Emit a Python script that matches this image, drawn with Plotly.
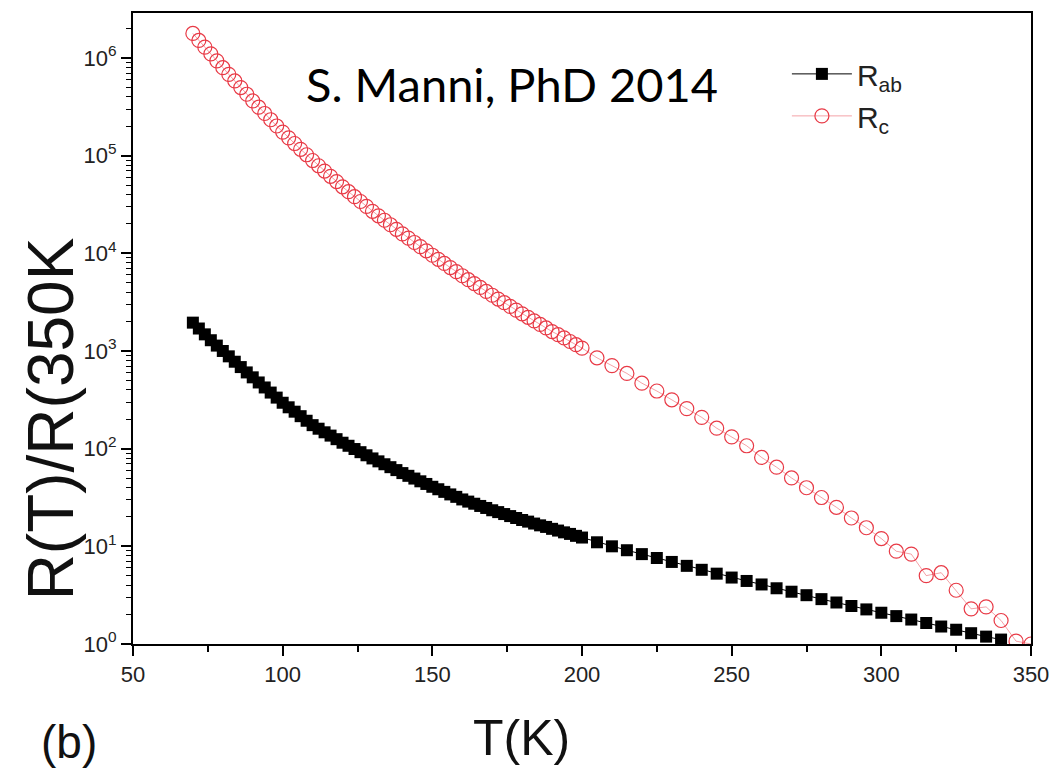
import plotly.graph_objects as go

# ---------------- data ----------------
T_ab = [70, 72, 74, 76, 78, 80, 82, 84, 86, 88, 90, 92, 94, 96, 98, 100,
        102, 104, 106, 108, 110, 112, 114, 116, 118, 120, 122, 124, 126, 128, 130,
        132, 134, 136, 138, 140, 142, 144, 146, 148, 150, 152, 154, 156, 158, 160,
        162, 164, 166, 168, 170, 172, 174, 176, 178, 180, 182, 184, 186, 188, 190,
        192, 194, 196, 198, 200,
        205, 210, 215, 220, 225, 230, 235, 240, 245, 250, 255, 260, 265, 270, 275,
        280, 285, 290, 295, 300, 305, 310, 315, 320, 325, 330, 335, 340]
R_ab = [1950, 1698, 1479, 1288, 1135, 1000, 881, 776, 684, 603, 537, 476, 423, 375, 333, 295,
        265, 239, 215, 193, 174, 160, 147, 136, 125, 115, 107, 99.1, 92.0, 85.5, 79.4,
        74.1, 69.2, 64.6, 60.3, 56.2, 52.7, 49.4, 46.3, 43.5, 40.7, 38.4, 36.1, 34.0, 32.1, 30.2,
        28.7, 27.3, 25.9, 24.7, 23.4, 22.4, 21.4, 20.4, 19.5, 18.6, 17.9, 17.1, 16.4, 15.8, 15.1,
        14.5, 13.9, 13.4, 12.8, 12.3,
        11.0, 10.0, 9.12, 8.32, 7.59, 6.92, 6.31, 5.75, 5.25, 4.79, 4.42, 4.07, 3.72, 3.43, 3.16,
        2.88, 2.66, 2.45, 2.26, 2.09, 1.93, 1.78, 1.64, 1.51, 1.40, 1.29, 1.19, 1.11]

T_c = [70, 72, 74, 76, 78, 80, 82, 84, 86, 88, 90, 92, 94, 96, 98, 100,
       102, 104, 106, 108, 110, 112, 114, 116, 118, 120, 122, 124, 126, 128, 130,
       132, 134, 136, 138, 140, 142, 144, 146, 148, 150, 152, 154, 156, 158, 160,
       162, 164, 166, 168, 170, 172, 174, 176, 178, 180, 182, 184, 186, 188, 190,
       192, 194, 196, 198, 200,
       205, 210, 215, 220, 225, 230, 235, 240, 245, 250, 255, 260, 265, 270, 275,
       280, 285, 290, 295, 300, 305, 310, 315, 320, 325, 330, 335, 340, 345, 350]
R_c = [1780000, 1510000, 1290000, 1100000, 933000, 794000, 679000, 581000, 497000, 425000,
       363000, 313000, 270000, 233000, 201000, 174000, 152000, 133000, 116000, 102000,
       89100, 78700, 69500, 61400, 54200, 47900, 42700, 38000, 33900, 30200,
       26900, 24200, 21800, 19600, 17600, 15800, 14300, 12900, 11700, 10600,
       9550, 8670, 7870, 7140, 6490, 5890, 5370, 4900, 4470, 4070,
       3720, 3400, 3120, 2860, 2620, 2400, 2210, 2030, 1870, 1720,
       1580, 1470, 1360, 1250, 1160, 1070,
       851, 708, 589, 468, 389, 316, 257, 209, 162, 132, 107, 81.3, 64.6, 50.1, 39.8,
       31.6, 25.1, 19.5, 15.5, 12.0, 8.91, 8.32, 5.01, 5.37, 3.55, 2.29, 2.40, 1.74, 1.07, 1.0]

x_ticks = [50, 100, 150, 200, 250, 300, 350]
y_ticks = [1, 10, 100, 1000, 10000, 100000, 1000000]
y_ticktext = ["10<sup>0</sup>", "10<sup>1</sup>", "10<sup>2</sup>", "10<sup>3</sup>",
              "10<sup>4</sup>", "10<sup>5</sup>", "10<sup>6</sup>"]

# ---------------- figure ----------------
W, H = 1060, 768
L, R, TOP, BOT = 133, 22, 11, 124
pw, ph = W - L - R, H - TOP - BOT

def px(xp):
    return (xp - L) / pw

def py(yp):
    return (H - BOT - yp) / ph

RED = "rgb(232,58,70)"
tick_font = dict(family="Liberation Sans, Arial", size=22, color="#222")

fig = go.Figure()
fig.add_trace(go.Scatter(
    x=T_ab, y=R_ab, mode="lines+markers", name="R<sub>ab</sub>",
    line=dict(color="black", width=1),
    marker=dict(symbol="square", size=12, color="black", line=dict(width=0)),
))
fig.add_trace(go.Scatter(
    x=T_c, y=R_c, mode="lines+markers", name="R<sub>c</sub>",
    line=dict(color="rgba(232,58,70,0.6)", width=0.8),
    marker=dict(symbol="circle-open", size=14, color=RED, line=dict(width=1.2)),
))

fig.update_layout(
    width=W, height=H,
    margin=dict(l=L, r=R, t=TOP, b=BOT),
    paper_bgcolor="white", plot_bgcolor="white",
    showlegend=True,
    legend=dict(x=px(792), y=py(46), xanchor="left", yanchor="top",
                font=dict(family="Liberation Sans, Arial", size=30, color="#222"),
                bgcolor="rgba(0,0,0,0)", itemwidth=60),
    xaxis=dict(range=[50, 350], tickvals=x_ticks, ticks="outside", ticklen=10, tickwidth=2,
               tickcolor="black", showline=True, linewidth=2, linecolor="black", mirror=True,
               showgrid=False, zeroline=False, tickfont=tick_font,
               minor=dict(dtick=25, tick0=50, ticks="outside", ticklen=6, tickwidth=1.5,
                          tickcolor="black", showgrid=False)),
    yaxis=dict(type="log", range=[0, 6.46], tickvals=y_ticks, ticktext=y_ticktext,
               ticks="outside", ticklen=10, tickwidth=2, tickcolor="black",
               showline=True, linewidth=2, linecolor="black", mirror=True,
               showgrid=False, zeroline=False, tickfont=tick_font,
               minor=dict(dtick="D1", ticks="outside", ticklen=5, tickwidth=1,
                          tickcolor="black", showgrid=False)),
)

fig.add_annotation(text="S. Manni, PhD 2014", x=px(515), y=py(82), xref="paper", yref="paper",
                   showarrow=False, xanchor="center", yanchor="middle",
                   font=dict(family="Lato, Open Sans, sans-serif", size=47, color="black"))
fig.add_annotation(text="R(T)/R(350K", x=px(50), y=py(418), xref="paper", yref="paper",
                   showarrow=False, textangle=-90, xanchor="center", yanchor="middle",
                   font=dict(family="Liberation Sans, Arial", size=64, color="#111"))
fig.add_annotation(text="T(K)", x=px(525), y=py(738), xref="paper", yref="paper",
                   showarrow=False, xanchor="center", yanchor="middle",
                   font=dict(family="Liberation Sans, Arial", size=50, color="#111"))
fig.add_annotation(text="(b)", x=px(68), y=py(742), xref="paper", yref="paper",
                   showarrow=False, xanchor="center", yanchor="middle",
                   font=dict(family="Liberation Sans, Arial", size=46, color="#111"))

fig.write_html("out.html", config={"displayModeBar": False},
               post_script="document.body.style.margin='0';document.body.style.padding='0';")
